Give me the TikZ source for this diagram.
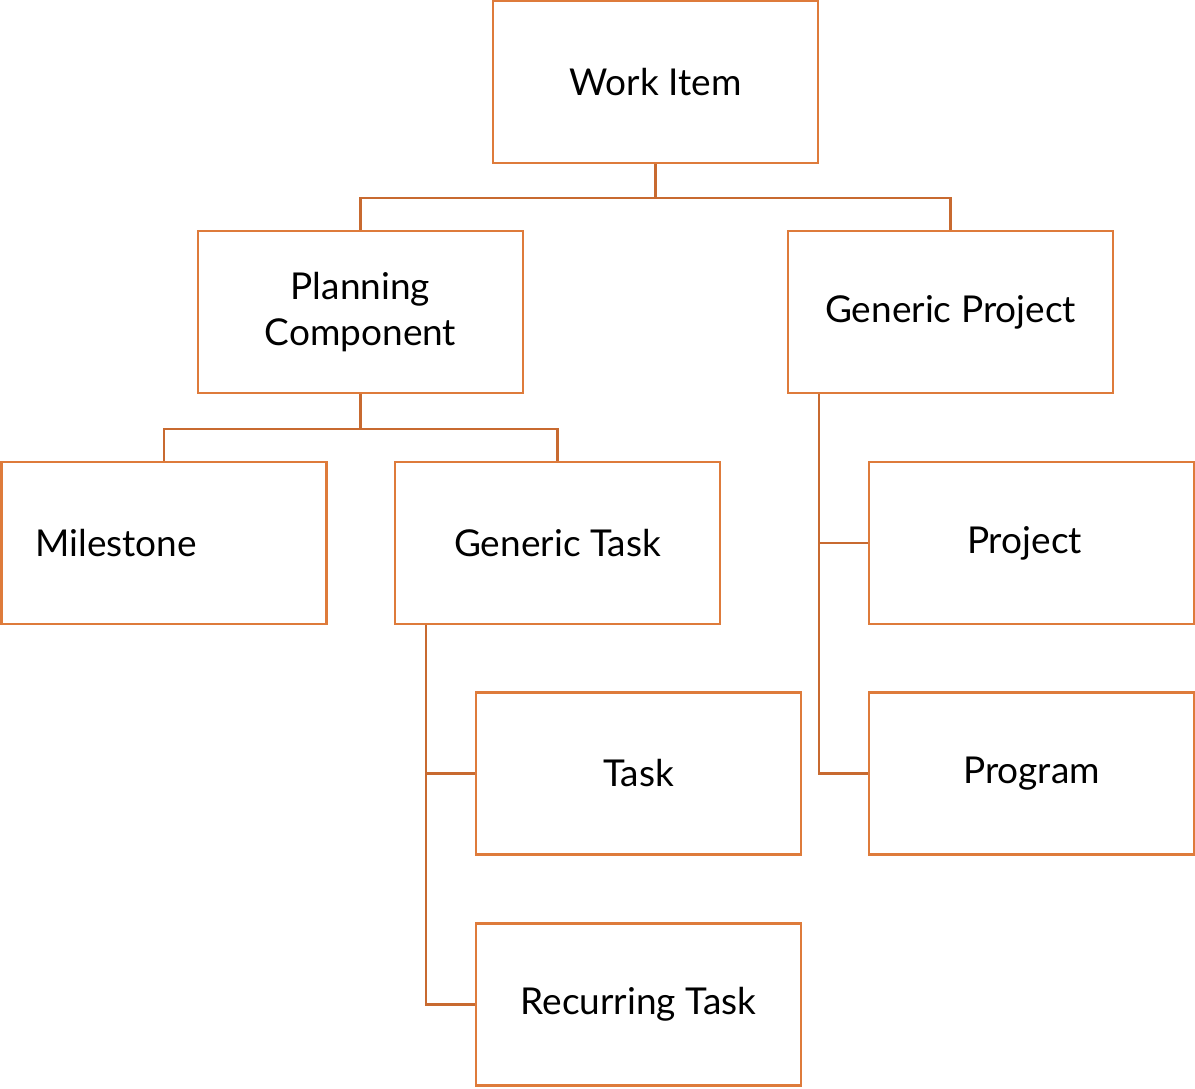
\documentclass[tikz,border=0pt]{standalone}
\usepackage{fontspec}
\setmainfont{Lato}
\definecolor{boxline}{HTML}{DE7B3B}
\definecolor{conline}{HTML}{C86A30}
\begin{document}
\begin{tikzpicture}[x=1pt,y=-1pt,
  box/.style={draw=boxline,line width=2.3pt,fill=white,minimum width=325pt,minimum height=162pt,inner sep=0pt,align=center,font=\fontsize{37}{46}\selectfont},
  conn/.style={draw=conline,line width=2.3pt}]
\useasboundingbox (0,0) rectangle (1195,1088);
\node[box] (work) at (655.5,82) {Work Item};
\node[box] (plan) at (360.5,312) {Planning\\Component};
\node[box] (gproj) at (950.5,312) {Generic Project};
\node[box,text width=257pt,inner xsep=34pt,align=left] (mile) at (164,543) {Milestone};
\node[box] (gtask) at (557.5,543) {Generic Task};
\node[box] (project) at (1031.5,543) {\hspace*{-14pt}Project};
\node[box] (task) at (638.5,773.5) {Task};
\node[box] (program) at (1031.5,773.5) {Program};
\node[box] (rtask) at (638.5,1004.5) {Recurring Task};
\draw[conn] (work.south) -- ++(0,34) -| (plan.north);
\draw[conn] (work.south) -- ++(0,34) -| (gproj.north);
\draw[conn] (plan.south) -- ++(0,35) -| (mile.north);
\draw[conn] (plan.south) -- ++(0,35) -| (gtask.north);
\draw[conn] ([xshift=32pt]gproj.south west) |- (project.west);
\draw[conn] ([xshift=32pt]gproj.south west) |- (program.west);
\draw[conn] ([xshift=32pt]gtask.south west) |- (task.west);
\draw[conn] ([xshift=32pt]gtask.south west) |- (rtask.west);
\end{tikzpicture}
\end{document}
